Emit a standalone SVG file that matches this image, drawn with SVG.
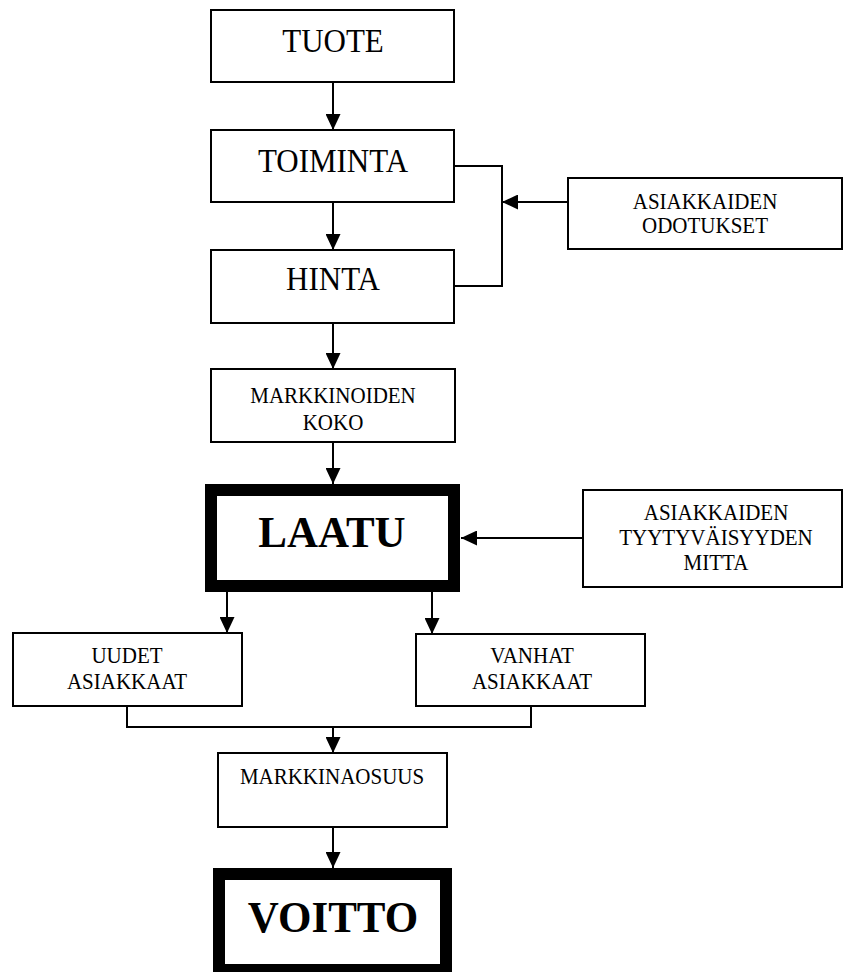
<svg xmlns="http://www.w3.org/2000/svg" width="845" height="972" viewBox="0 0 845 972">
  <defs>
    <marker id="arrow" markerUnits="userSpaceOnUse" markerWidth="16" markerHeight="15" refX="16" refY="7.5" orient="auto">
      <path d="M0,0 L16,7.5 L0,15 z" fill="#000"/>
    </marker>
    <style>
      .box { fill: #fff; stroke: #000; stroke-width: 2; }
      .heavy { fill: #fff; stroke: #000; stroke-width: 12; }
      .big { font-family: "Liberation Serif", "Times New Roman", serif; font-size: 31px; text-anchor: middle; fill: #000; }
      .small { font-family: "Liberation Serif", "Times New Roman", serif; font-size: 21px; text-anchor: middle; fill: #000; }
      .bold { font-family: "Liberation Serif", "Times New Roman", serif; font-size: 43px; font-weight: bold; text-anchor: middle; fill: #000; }
      .line { fill: none; stroke: #000; stroke-width: 2; }
      .arr { fill: none; stroke: #000; stroke-width: 2; marker-end: url(#arrow); }
    </style>
  </defs>
  <rect width="845" height="972" fill="#fff"/>

  <g id="connectors">
    <line class="arr" x1="333" y1="82" x2="333" y2="130"/>
    <line class="arr" x1="333" y1="202" x2="333" y2="250"/>
    <line class="arr" x1="333" y1="323" x2="333" y2="369"/>
    <line class="arr" x1="333" y1="442" x2="333" y2="484"/>
    <polyline class="line" points="454,166 502,166 502,286 454,286"/>
    <line class="arr" x1="568" y1="202" x2="502" y2="202"/>
    <line class="arr" x1="583" y1="538" x2="461" y2="538"/>
    <line class="arr" x1="227" y1="592" x2="227" y2="633"/>
    <line class="arr" x1="432" y1="592" x2="432" y2="634"/>
    <polyline class="line" points="127,706 127,727 531,727 531,706"/>
    <line class="arr" x1="333" y1="727" x2="333" y2="753"/>
    <line class="arr" x1="333" y1="827" x2="333" y2="868"/>
  </g>

  <!-- text is set slightly taller than wide, as in the printed chart -->
  <g id="tuote">
    <rect class="box" x="211" y="10" width="243" height="72"/>
    <text class="big" transform="translate(333,52) scale(1,1.06)">TUOTE</text>
  </g>
  <g id="toiminta">
    <rect class="box" x="211" y="130" width="243" height="72"/>
    <text class="big" transform="translate(333,172) scale(1,1.06)">TOIMINTA</text>
  </g>
  <g id="hinta">
    <rect class="box" x="211" y="250" width="243" height="73"/>
    <text class="big" transform="translate(333,290) scale(1,1.06)">HINTA</text>
  </g>
  <g id="asiakkaiden-odotukset">
    <rect class="box" x="568" y="178" width="274" height="71"/>
    <text class="small" transform="translate(705,209) scale(1,1.13)">ASIAKKAIDEN</text>
    <text class="small" transform="translate(705,233) scale(1,1.13)">ODOTUKSET</text>
  </g>
  <g id="markkinoiden-koko">
    <rect class="box" x="211" y="369" width="244" height="73"/>
    <text class="small" transform="translate(333,403) scale(1,1.13)">MARKKINOIDEN</text>
    <text class="small" transform="translate(333,430) scale(1,1.13)">KOKO</text>
  </g>
  <g id="laatu">
    <rect class="heavy" x="211" y="490" width="243" height="96"/>
    <text class="bold" transform="translate(332,547) scale(1,1.04)">LAATU</text>
  </g>
  <g id="tyytyvaisyys">
    <rect class="box" x="583" y="490" width="259" height="97"/>
    <text class="small" transform="translate(716,520) scale(1,1.13)">ASIAKKAIDEN</text>
    <text class="small" transform="translate(716,545) scale(1,1.13)">TYYTYVÄISYYDEN</text>
    <text class="small" transform="translate(716,570) scale(1,1.13)">MITTA</text>
  </g>
  <g id="uudet-asiakkaat">
    <rect class="box" x="13" y="633" width="229" height="73"/>
    <text class="small" transform="translate(127,663) scale(1,1.13)">UUDET</text>
    <text class="small" transform="translate(127,689) scale(1,1.13)">ASIAKKAAT</text>
  </g>
  <g id="vanhat-asiakkaat">
    <rect class="box" x="416" y="634" width="229" height="72"/>
    <text class="small" transform="translate(532,663) scale(1,1.13)">VANHAT</text>
    <text class="small" transform="translate(532,689) scale(1,1.13)">ASIAKKAAT</text>
  </g>
  <g id="markkinaosuus">
    <rect class="box" x="218" y="753" width="229" height="74"/>
    <text class="small" transform="translate(332,784) scale(1,1.13)">MARKKINAOSUUS</text>
  </g>
  <g id="voitto">
    <rect class="heavy" x="219" y="874" width="227" height="96"/>
    <text class="bold" transform="translate(333,932) scale(1,1.04)">VOITTO</text>
  </g>
</svg>
